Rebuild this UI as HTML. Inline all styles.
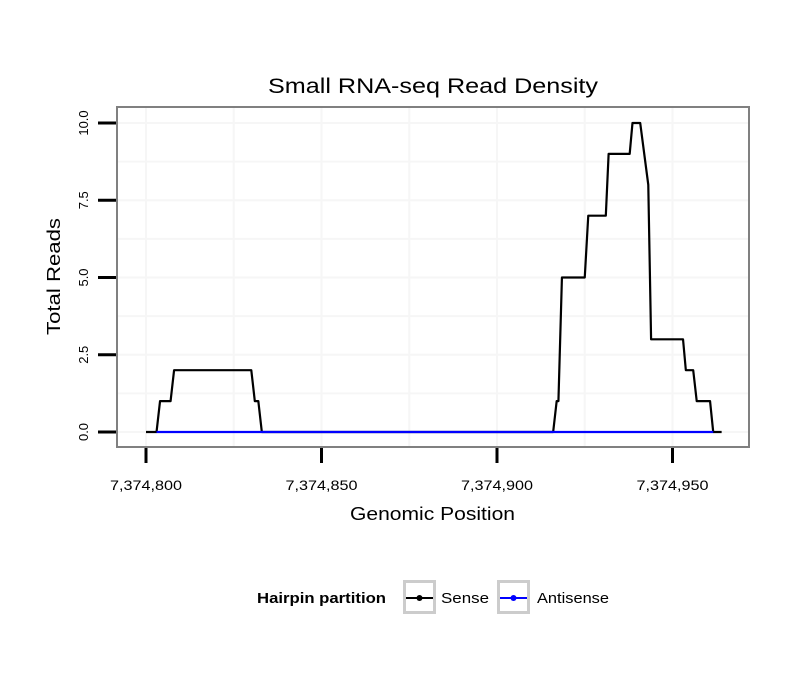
<!DOCTYPE html>
<html><head><meta charset="utf-8"><style>
body{margin:0;background:#fff;}
svg text{font-family:"Liberation Sans",sans-serif;}
</style></head><body>
<svg width="810" height="690" viewBox="0 0 810 690" xmlns="http://www.w3.org/2000/svg">
<rect x="0" y="0" width="810" height="690" fill="#fff"/>
<text x="268" y="93" font-size="21" textLength="330" lengthAdjust="spacingAndGlyphs">Small RNA-seq Read Density</text>
<g id="grid"></g>
<g id="series"></g>
<rect x="117" y="107" width="632" height="340" fill="none" stroke="#808080" stroke-width="2"/>
<g id="axes"></g>
<text x="350" y="520" font-size="18" textLength="165" lengthAdjust="spacingAndGlyphs">Genomic Position</text>
<text transform="translate(60,335) rotate(-90)" font-size="18" textLength="117" lengthAdjust="spacingAndGlyphs">Total Reads</text>
<g>
<text x="257" y="603" font-size="15" font-weight="bold" textLength="129" lengthAdjust="spacingAndGlyphs">Hairpin partition</text>
<g>
<rect x="404.5" y="581.5" width="30" height="31" fill="#fff" stroke="#ccc" stroke-width="3"/>
<line x1="406" y1="598" x2="433" y2="598" stroke="#000" stroke-width="2"/>
<circle cx="419.5" cy="598" r="3" fill="#000"/>
<text x="441" y="603" font-size="15" textLength="48" lengthAdjust="spacingAndGlyphs">Sense</text></g>
<g>
<rect x="498.5" y="581.5" width="30" height="31" fill="#fff" stroke="#ccc" stroke-width="3"/>
<line x1="500" y1="598" x2="527" y2="598" stroke="#0000ff" stroke-width="2"/>
<circle cx="513.5" cy="598" r="3" fill="#0000ff"/>
<text x="537" y="603" font-size="15" textLength="72" lengthAdjust="spacingAndGlyphs">Antisense</text></g>
</g>
</svg>
<script>
const base = 7374800;
const senseX = [0,3,4,7,8,30,31,32,33,116,117,117.5,118.5,125,126,131,131.8,137.8,138.6,140.8,143.1,143.9,153,153.8,155.9,156.9,160.7,161.6,164];
const senseY = [0,0,1,1,2,2,1,1,0,0,1,1,5,5,7,7,9,9,10,10,8,3,3,2,2,1,1,0,0];
const antiX = [3,161.6];
const antiY = [0,0];
const xTicks = [7374800,7374850,7374900,7374950];
const xTickLabels = ["7,374,800","7,374,850","7,374,900","7,374,950"];
const yTicks = [0,2.5,5,7.5,10];
const yTickLabels = ["0.0","2.5","5.0","7.5","10.0"];
const NS='http://www.w3.org/2000/svg';
function sx(p){return 146+(p-base)*3.51;}
function sy(v){return 432-v*30.9;}
function mk(parent,tag,attrs){const e=document.createElementNS(NS,tag);for(const k in attrs)e.setAttribute(k,attrs[k]);document.getElementById(parent).appendChild(e);return e;}
for(let p=base-25;p<=base+175;p+=25){const x=sx(p);if(x<118||x>748)continue;
const g=mk('grid','line',{x1:x,x2:x,y1:108,y2:446,stroke:'#f6f6f6','stroke-width':2});

}
for(let v=0;v<=11;v+=1.25){const y=sy(v);if(y<108||y>446)continue;
const g=mk('grid','line',{x1:118,x2:748,y1:y,y2:y,stroke:'#f6f6f6','stroke-width':2});

}
function line(xs,ys,color,name){const pts=xs.map((p,i)=>sx(base+p)+','+sy(ys[i])).join(' ');
const l=mk('series','polyline',{points:pts,fill:'none',stroke:color,'stroke-width':2.2,'stroke-linejoin':'round'});

}
line(senseX,senseY,'#000','sense-line');
line(antiX,antiY,'#0000ff','antisense-line');
xTicks.forEach((t,i)=>{const x=sx(t);
const tk=mk('axes','line',{x1:x,x2:x,y1:448,y2:463,stroke:'#000','stroke-width':3});


const tx=mk('axes','text',{x:x-36,y:490,'font-size':14,textLength:72,lengthAdjust:'spacingAndGlyphs'});tx.textContent=xTickLabels[i];

});
yTicks.forEach((t,i)=>{const y=sy(t);
const tk=mk('axes','line',{x1:98,x2:116,y1:y,y2:y,stroke:'#000','stroke-width':3});


const tx=mk('axes','text',{transform:'translate(88,'+y+') rotate(-90)','font-size':13,'text-anchor':'middle'});tx.textContent=yTickLabels[i];

});
</script>
</body></html>
